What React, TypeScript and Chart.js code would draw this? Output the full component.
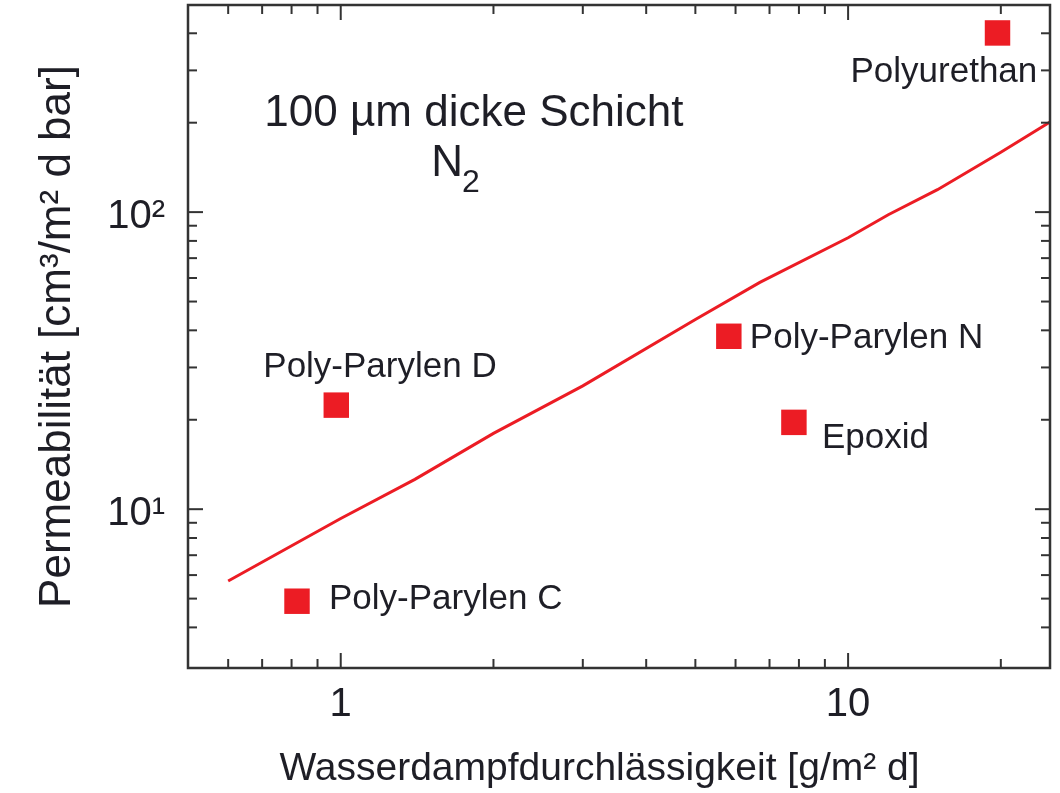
import { useEffect, useRef } from 'react';
import { Chart, registerables } from 'chart.js';

Chart.register(...registerables);

// ---- data ----
const materials = ['Poly-Parylen C', 'Poly-Parylen D', 'Poly-Parylen N', 'Epoxid', 'Polyurethan'];
const waterVapor = [0.82, 0.98, 5.82, 7.82, 19.7]; // g/m² d
const nitrogenPerm = [4.9, 22.4, 38.2, 19.6, 401]; // cm³/m² d bar

const trendX = [0.6, 1, 1.4, 2, 3, 5, 6.7, 10, 12, 15, 20, 25];
const trendY = [5.73, 9.3, 12.6, 18, 26, 43.5, 58, 82, 98, 119, 159, 201];

const xTickValues = [0.6, 0.7, 0.8, 0.9, 1, 2, 3, 4, 5, 6, 7, 8, 9, 10, 20];
const xMajorValues = [1, 10];
const xMajorLabels = ['1', '10'];

const yTickValues = [4, 5, 6, 7, 8, 9, 10, 20, 30, 40, 50, 60, 70, 80, 90, 100, 200, 300, 400];
const yMajorValues = [10, 100];
const yMajorLabels = ['10¹', '10²'];

const xTitle = 'Wasserdampfdurchlässigkeit [g/m² d]\u2002\u2002';
const yTitle = 'Permeabilität [cm³/m² d bar]';
const noteLine1 = '100 µm dicke Schicht';
const noteGas = 'N';
const noteGasSub = '2';

// ---- styles ----
const RED = '#ec1c24';
const INK = '#1e1e26';
const FRAME = '#333333';
const FAMILY = '"Liberation Sans", Arial, Helvetica, sans-serif';

// label placement relative to marker centre (text start, baseline)
const labelOffsets = [
  [32, 8],
  [-73, -28],
  [21, 12],
  [28, 26],
  [-147, 49],
];

function majorLabel(values: number[], labels: string[], v: number): string {
  const i = values.findIndex((m) => Math.abs(m - v) < 1e-9);
  return i >= 0 ? labels[i] : '';
}

const decorPlugin = {
  id: 'decor',
  afterDraw(chart: any) {
    const { ctx, chartArea: a, scales } = chart;
    const xs = scales.x;
    const ys = scales.y;
    ctx.save();
    ctx.strokeStyle = FRAME;
    ctx.lineWidth = 2;
    ctx.lineCap = 'butt';
    const seg = (x1: number, y1: number, x2: number, y2: number) => {
      ctx.beginPath();
      ctx.moveTo(x1, y1);
      ctx.lineTo(x2, y2);
      ctx.stroke();
    };
    xs.ticks.forEach((t: any) => {
      const px = xs.getPixelForValue(t.value);
      if (px <= a.left + 1 || px >= a.right - 1) return;
      const len = xMajorValues.some((m) => Math.abs(m - t.value) < 1e-9) ? 15 : 9;
      seg(px, a.bottom, px, a.bottom - len);
      seg(px, a.top, px, a.top + len);
    });
    ys.ticks.forEach((t: any) => {
      const py = ys.getPixelForValue(t.value);
      if (py <= a.top + 1 || py >= a.bottom - 1) return;
      const len = yMajorValues.some((m) => Math.abs(m - t.value) < 1e-9) ? 15 : 9;
      seg(a.left, py, a.left + len, py);
      seg(a.right, py, a.right - len, py);
    });
    ctx.lineWidth = 2.5;
    ctx.strokeRect(a.left, a.top, a.right - a.left, a.bottom - a.top);

    // point labels
    ctx.fillStyle = INK;
    ctx.textBaseline = 'alphabetic';
    ctx.textAlign = 'left';
    ctx.font = `35px ${FAMILY}`;
    materials.forEach((name, i) => {
      const px = xs.getPixelForValue(waterVapor[i]);
      const py = ys.getPixelForValue(nitrogenPerm[i]);
      const [dx, dy] = labelOffsets[i];
      ctx.fillText(name, px + dx, py + dy);
    });

    // note
    ctx.font = `44px ${FAMILY}`;
    ctx.textAlign = 'center';
    const nx = xs.getPixelForValue(1.83);
    const ny = ys.getPixelForValue(195);
    ctx.fillText(noteLine1, nx, ny);
    const gx = xs.getPixelForValue(1.62);
    const gy = ys.getPixelForValue(132);
    ctx.fillText(noteGas, gx, gy);
    const nW = ctx.measureText(noteGas).width;
    ctx.font = `32px ${FAMILY}`;
    ctx.textAlign = 'left';
    ctx.fillText(noteGasSub, gx + nW / 2 - 1, gy + 16);
    ctx.restore();
  },
};

export default function App() {
  const ref = useRef<HTMLCanvasElement>(null);
  useEffect(() => {
    const canvas = ref.current;
    if (!canvas) return;
    const chart = new Chart(canvas, {
      type: 'scatter',
      data: {
        datasets: [
          {
            type: 'line',
            label: 'Trend',
            data: trendX.map((x, i) => ({ x, y: trendY[i] })),
            borderColor: RED,
            backgroundColor: RED,
            borderWidth: 3,
            pointRadius: 0,
            fill: false,
            tension: 0,
            order: 2,
          },
          {
            type: 'scatter',
            label: 'Materialien',
            data: waterVapor.map((x, i) => ({ x, y: nitrogenPerm[i] })),
            pointStyle: 'rect',
            pointRadius: 18,
            pointHoverRadius: 18,
            backgroundColor: RED,
            borderWidth: 0,
            order: 1,
          },
        ],
      } as any,
      options: {
        animation: false,
        responsive: false,
        devicePixelRatio: 1,
        layout: { autoPadding: false, padding: { top: 5, right: 10, bottom: 0, left: 0 } },
        plugins: { legend: { display: false }, tooltip: { enabled: false } },
        scales: {
          x: {
            type: 'logarithmic',
            min: 0.5,
            max: 25,
            afterBuildTicks: (s: any) => {
              s.ticks = xTickValues.map((v) => ({ value: v }));
            },
            afterFit: (s: any) => {
              s.height = 125;
              s.paddingLeft = 0;
              s.paddingRight = 0;
            },
            grid: { display: false },
            border: { display: false },
            ticks: {
              autoSkip: false,
              maxRotation: 0,
              minRotation: 0,
              padding: 5,
              color: INK,
              font: { family: FAMILY, size: 40 },
              callback: (v: any) => majorLabel(xMajorValues, xMajorLabels, Number(v)),
            },
            title: {
              display: true,
              text: xTitle,
              color: INK,
              font: { family: FAMILY, size: 39 },
              padding: { top: 0, bottom: 0 },
            },
          },
          y: {
            type: 'logarithmic',
            min: 2.92,
            max: 498,
            afterBuildTicks: (s: any) => {
              s.ticks = yTickValues.map((v) => ({ value: v }));
            },
            afterFit: (s: any) => {
              s.width = 188;
              s.paddingTop = 0;
              s.paddingBottom = 0;
            },
            grid: { display: false },
            border: { display: false },
            ticks: {
              autoSkip: false,
              padding: 15,
              labelOffset: 5,
              color: INK,
              font: { family: FAMILY, size: 40 },
              callback: (v: any) => majorLabel(yMajorValues, yMajorLabels, Number(v)),
            },
            title: {
              display: true,
              text: yTitle,
              color: INK,
              font: { family: FAMILY, size: 44 },
              padding: { top: 31, bottom: 0 },
            },
          },
        },
      } as any,
      plugins: [decorPlugin],
    });
    return () => chart.destroy();
  }, []);
  return (
    <div style={{ position: 'fixed', left: 0, top: 0, width: 1060, height: 793, background: '#fff' }}>
      <canvas ref={ref} width={1060} height={793} style={{ display: 'block', width: 1060, height: 793 }} />
    </div>
  );
}
